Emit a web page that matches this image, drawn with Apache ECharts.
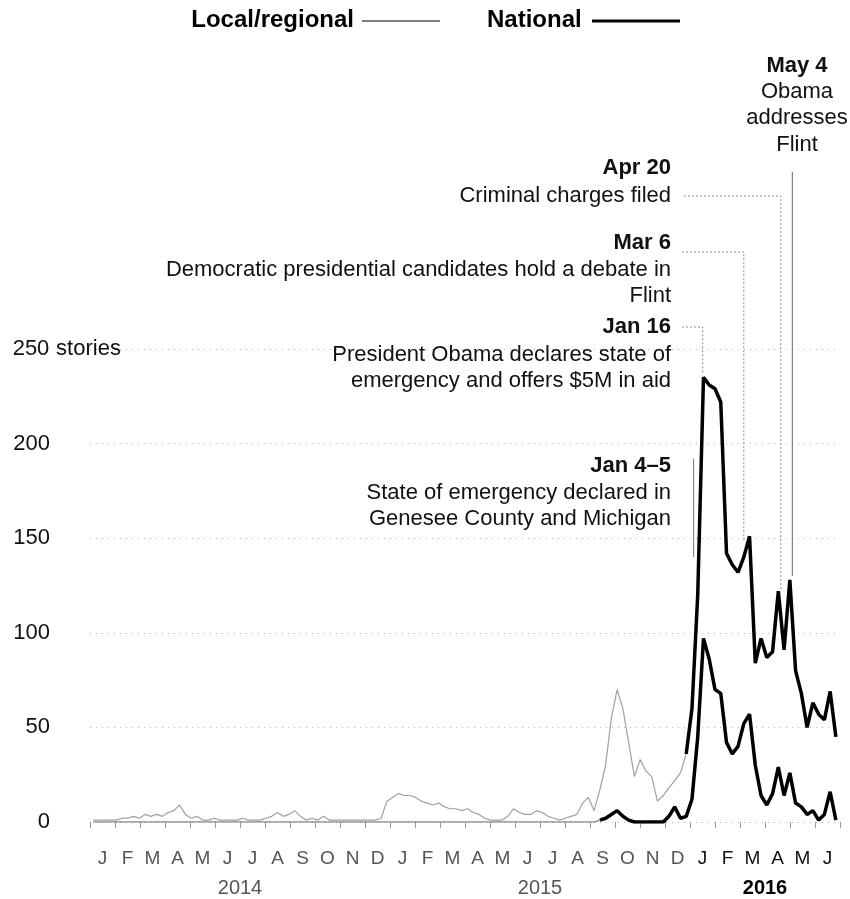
<!DOCTYPE html>
<html><head><meta charset="utf-8">
<script src="https://cdn.jsdelivr.net/npm/echarts@6/dist/echarts.min.js"></script>
<style>html,body{margin:0;padding:0;background:#fff}#c{width:850px;height:899px}</style>
</head><body><div id="c"></div>
<script>
// Weekly story counts, first week starting 2014-01-05
const localRegional = [
  1,1,1,1,1,2,2,3,2,4,
  3,4,3,5,6,9,4,2,3,1,
  1,2,1,1,1,1,2,1,1,1,
  2,3,5,3,4,6,3,1,2,1,
  3,1,1,1,1,1,1,1,1,1,
  2,11,13,15,14,14,13,11,10,9,
  10,8,7,7,6,7,5,4,2,1,
  1,1,3,7,5,4,4,6,5,3,
  2,1,2,3,4,10,13,6,17,30,
  55,70,60,42,24,33,27,24,11,14,
  18,22,26,36,60,120,235,231,229,222,
  142,136,132,140,151,84,97,87,90,122,
  91,128,80,68,50,63,57,54,69,45
];
const national = [
  0,0,0,0,0,0,0,0,0,0,
  0,0,0,0,0,0,0,0,0,0,
  0,0,0,0,0,0,0,0,0,0,
  0,0,0,0,0,0,0,0,0,0,
  0,0,0,0,0,0,0,0,0,0,
  0,0,0,0,0,0,0,0,0,0,
  0,0,0,0,0,0,0,0,0,0,
  0,0,0,0,0,0,0,0,0,0,
  0,0,0,0,0,0,0,0,1,2,
  4,6,3,1,0,0,0,0,0,0,
  3,8,2,3,12,45,97,86,70,68,
  42,36,40,52,57,30,14,9,15,29,
  14,26,10,8,4,6,1,4,16,1
];
const monthLetters = ['J','F','M','A','M','J','J','A','S','O','N','D',
                      'J','F','M','A','M','J','J','A','S','O','N','D',
                      'J','F','M','A','M','J'];
const yearLabels = {6:'2014', 18:'2015', 27:'2016'};
const yTicks = [0,50,100,150,200,250];

// Annotation events: date, value where the leader meets the line
const events = [
  {date:[2016,0,5],  top:192, bottom:140},
  {date:[2016,0,16], value:237},
  {date:[2016,2,6],  value:148},
  {date:[2016,3,20], value:123},
  {date:[2016,4,4],  value:130}
];

const FONT = "'Liberation Sans', Arial, Helvetica, sans-serif";
const weeks = localRegional.map((_, i) => new Date(2014, 0, 5 + 7 * i).getTime());
function part(values, from, to) {
  return values.map((v, i) => [weeks[i], (i >= from && i <= to) ? v : null]);
}

const chart = echarts.init(document.getElementById('c'));
const gridLeft = 90, gridTop = 349, gridRight = 10, gridBottom = 77;

const option = {
  animation: false,
  backgroundColor: '#fff',
  grid: {left: gridLeft, right: gridRight, top: gridTop, bottom: gridBottom, containLabel: false},
  xAxis: [
    {type: 'time', min: new Date(2014,0,1).getTime(), max: new Date(2016,6,1).getTime(),
     show: false},
    {type: 'value', min: 0, max: 30, interval: 1, position: 'bottom',
     axisLine: {show: false}, splitLine: {show: false},
     axisTick: {show: true, length: 6, lineStyle: {color: '#999', width: 1}},
     axisLabel: {show: false}},
    {type: 'value', min: 0, max: 30, interval: 0.5, position: 'bottom',
     axisLine: {show: false}, splitLine: {show: false}, axisTick: {show: false},
     axisLabel: {
       show: true, margin: 27, fontSize: 19, fontFamily: FONT, color: '#555',
       showMinLabel: true, showMaxLabel: true,
       formatter: v => {
         const k = Math.floor(v);
         if (Math.abs(v - k - 0.5) > 1e-6 || k >= monthLetters.length) return '';
         return k >= 24 ? '{d|' + monthLetters[k] + '}' : monthLetters[k];
       },
       rich: {d: {color: '#111', fontSize: 19, fontFamily: FONT}}
     }},
    {type: 'value', min: 0, max: 30, interval: 3, position: 'bottom',
     axisLine: {show: false}, splitLine: {show: false}, axisTick: {show: false},
     axisLabel: {
       show: true, margin: 56, fontSize: 20, fontFamily: FONT, color: '#555',
       formatter: v => {
         const t = yearLabels[Math.round(v)];
         if (!t) return '';
         return t === '2016' ? '{b|' + t + '}' : t;
       },
       rich: {b: {color: '#000', fontWeight: 'bold', fontSize: 20, fontFamily: FONT}}
     }}
  ],
  yAxis: {
    type: 'value', min: 0, max: 250, interval: 50,
    axisLine: {show: false}, axisTick: {show: false},
    splitLine: {show: true, lineStyle: {color: '#b5b5b5', width: 1, type: [1, 5]}},
    axisLabel: {
      align: 'left', margin: 78, fontSize: 22, fontFamily: FONT, color: '#111',
      formatter: v => yTicks.includes(v) ? (v === 250 ? '{n|250} stories' : '{n|' + v + '}') : '',
      rich: {n: {width: 38, align: 'right', fontSize: 22, fontFamily: FONT, color: '#111'}}
    }
  },
  series: [
    {name: 'National', type: 'line', xAxisIndex: 0, data: part(national, 0, 88),
     showSymbol: false, lineStyle: {color: '#8a8a8a', width: 1.5}, z: 2},
    {name: 'Local/regional', type: 'line', xAxisIndex: 0, data: part(localRegional, 0, 103),
     showSymbol: false, lineStyle: {color: '#a0a0a0', width: 1.2}, z: 3},
    {name: 'National ', type: 'line', xAxisIndex: 0, data: part(national, 88, 129),
     showSymbol: false, lineStyle: {color: '#000', width: 3.5}, z: 4},
    {name: 'Local/regional ', type: 'line', xAxisIndex: 0, data: part(localRegional, 103, 129),
     showSymbol: false, lineStyle: {color: '#000', width: 3.5}, z: 5}
  ]
};
chart.setOption(option);

// annotations and legend
const P = (d, v) => chart.convertToPixel({xAxisIndex: 0, yAxisIndex: 0}, [new Date(d[0], d[1], d[2]).getTime(), v]);
const g = [];
function txt(t, x, y, align, bold) {
  g.push({type: 'text', z: 50, style: {text: t, x: x, y: y, align: align, verticalAlign: 'middle',
    fill: '#111', font: (bold ? 'bold ' : '') + '22px ' + FONT}});
}
function poly(pts, dash, color) {
  g.push({type: 'polyline', z: 40, shape: {points: pts},
    style: {stroke: color || '#8a8a8a', lineWidth: 1, fill: null, lineDash: dash ? [2, 2] : null}});
}
const RX = 671;
// legend
g.push({type: 'text', z: 50, style: {text: 'Local/regional', x: 354, y: 20, align: 'right', verticalAlign: 'middle', fill: '#000', font: 'bold 24px ' + FONT}});
g.push({type: 'line', z: 50, shape: {x1: 362, y1: 21, x2: 440, y2: 21}, style: {stroke: '#555', lineWidth: 1.4}});
g.push({type: 'text', z: 50, style: {text: 'National', x: 487, y: 20, align: 'left', verticalAlign: 'middle', fill: '#000', font: 'bold 24px ' + FONT}});
g.push({type: 'line', z: 50, shape: {x1: 592, y1: 21, x2: 680, y2: 21}, style: {stroke: '#000', lineWidth: 3}});

// May 4
txt('May 4', 797, 66, 'center', true);
txt('Obama', 797, 92, 'center', false);
txt('addresses', 797, 118, 'center', false);
txt('Flint', 797, 145, 'center', false);
// Apr 20
txt('Apr 20', RX, 168, 'right', true);
txt('Criminal charges filed', RX, 196, 'right', false);
// Mar 6
txt('Mar 6', RX, 243, 'right', true);
txt('Democratic presidential candidates hold a debate in', RX, 270, 'right', false);
txt('Flint', RX, 296, 'right', false);
// Jan 16
txt('Jan 16', RX, 327, 'right', true);
txt('President Obama declares state of', RX, 355, 'right', false);
txt('emergency and offers $5M in aid', RX, 381, 'right', false);
// Jan 4-5
txt('Jan 4\u20135', RX, 466, 'right', true);
txt('State of emergency declared in', RX, 493, 'right', false);
txt('Genesee County and Michigan', RX, 519, 'right', false);

// leaders
let a = P(events[0].date, events[0].top), b = P(events[0].date, events[0].bottom);
poly([[a[0], a[1]], [b[0], b[1]]], false, '#777');
let e = P(events[1].date, events[1].value);
poly([[682, 327], [e[0], 327], [e[0], e[1]]], true);
e = P(events[2].date, events[2].value);
poly([[682, 252], [e[0], 252], [e[0], e[1]]], true);
e = P(events[3].date, events[3].value);
poly([[684, 196], [e[0], 196], [e[0], e[1]]], true);
e = P(events[4].date, events[4].value);
poly([[e[0], 172], [e[0], e[1]]], false, '#666');

chart.setOption({graphic: g});
</script></body></html>
